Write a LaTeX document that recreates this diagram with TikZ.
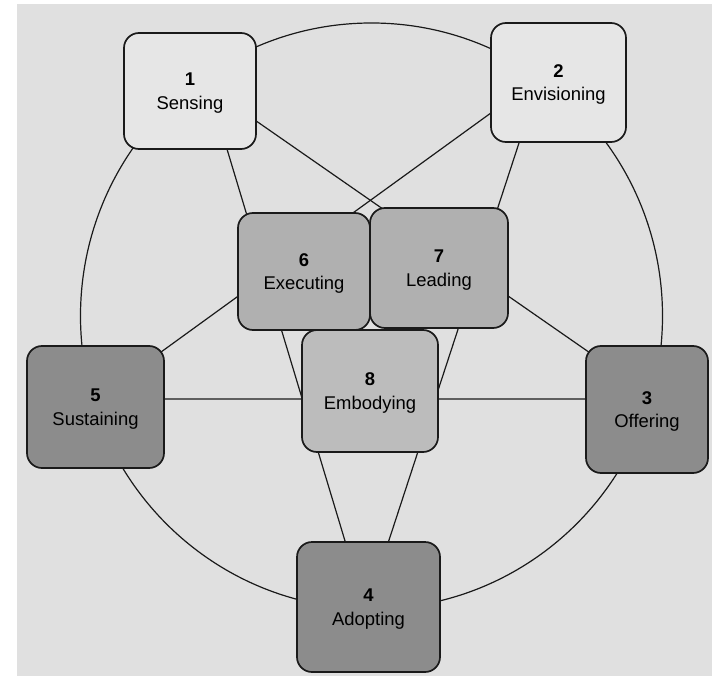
\documentclass[tikz,border=0pt]{standalone}
\usepackage{fontspec}
\setmainfont{Liberation Sans}

\definecolor{page}{HTML}{E0E0E0}
\definecolor{paleface}{HTML}{E6E6E6}
\definecolor{midface}{HTML}{B0B0B0}
\definecolor{softface}{HTML}{BCBCBC}
\definecolor{darkface}{HTML}{8C8C8C}
\definecolor{ink}{HTML}{1A1A1A}

\begin{document}
\begin{tikzpicture}[x=1bp,y=-1bp,
  practice/.style={draw=ink, line width=1.7bp, rounded corners=15bp,
    align=center, inner sep=0pt, text=black, text depth=-5bp,
    font=\fontsize{18.5}{23.5}\selectfont},
  outerbox/.style={practice, fill=paleface},
  innerbox/.style={practice, fill=midface},
  corebox/.style={practice, fill=softface},
  rimbox/.style={practice, fill=darkface},
  slot/.style={inner sep=0pt},
  link/.style={draw=ink, line width=1.2bp},
  wheel/.style={draw=ink, line width=1.2bp}]

\useasboundingbox (0,0) rectangle (718,676);
% sheet of paper on a white ground
\fill[white] (0,0) rectangle (718,676);
\fill[page] (17,4) rectangle (712,676);

% centres of the eight practices
\coordinate (c1) at (190,91);
\coordinate (c2) at (558.5,82.5);
\coordinate (c3) at (647,409.5);
\coordinate (c4) at (368.5,607);
\coordinate (c5) at (95.5,407);
\coordinate (c6) at (304,271.5);
\coordinate (c7) at (439,268);
\coordinate (c8) at (370,391);
\coordinate (hub) at (371.5,316);

% the wheel through the five outer practices
\draw[wheel] (hub) ellipse [x radius=291bp, y radius=293bp];

% the star joining the outer practices (drawn beneath the boxes)
\node[slot] (a1) at (c1) {};
\node[slot] (a2) at (c2) {};
\node[slot] (a3) at (c3) {};
\node[slot] (a4) at (c4) {};
\node[slot] (a5) at (c5) {};

\draw[link] ([yshift=16bp]a1.center) -- ([yshift=17bp]a3.center);
\draw[link] ([yshift=18.5bp]a2.center) -- ([yshift=7.5bp]a5.center);
\draw[link] ([xshift=19.5bp]a1.center) -- ([xshift=-3.6bp]a4.center);
\draw[link] ([xshift=-19.7bp]a2.center) -- ([xshift=-1.4bp]a4.center);
\draw[link] ([yshift=8bp]a5.center) -- ([yshift=10.5bp]a3.center);

% the practices
\node[outerbox, minimum width=132bp, minimum height=116bp] (p1) at (c1) {\textbf{1}\\Sensing};
\node[outerbox, minimum width=135bp, minimum height=119bp] (p2) at (c2) {\textbf{2}\\Envisioning};
\node[rimbox, minimum width=122bp, minimum height=127bp] (p3) at (c3) {\textbf{3}\\Offering};
\node[rimbox, minimum width=143bp, minimum height=130bp] (p4) at (c4) {\textbf{4}\\Adopting};
\node[rimbox, minimum width=137bp, minimum height=122bp] (p5) at (c5) {\textbf{5}\\Sustaining};
\node[innerbox, minimum width=132bp, minimum height=117bp] (p6) at (c6) {\textbf{6}\\Executing};
\node[innerbox, minimum width=138bp, minimum height=120bp] (p7) at (c7) {\textbf{7}\\Leading};
\node[corebox, minimum width=136bp, minimum height=122bp] (p8) at (c8) {\textbf{8}\\Embodying};

\end{tikzpicture}
\end{document}
